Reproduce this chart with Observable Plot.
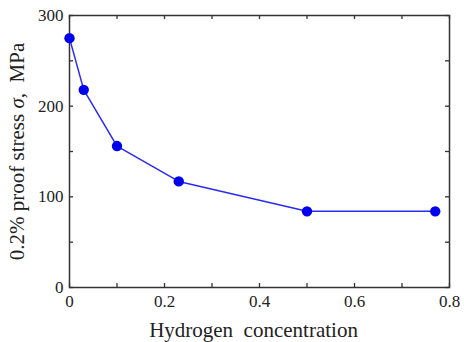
<!DOCTYPE html>
<html><head><meta charset="utf-8">
<script src="https://cdn.jsdelivr.net/npm/d3@7"></script>
<script src="https://cdn.jsdelivr.net/npm/@observablehq/plot@0.6"></script>
<style>
body{margin:0;background:#fff}
#chart svg, #chart svg text { font-family: "Liberation Serif", "Times New Roman", serif !important; }
</style>
</head><body><div id="chart"></div>
<script>
const hydrogen = [0, 0.03, 0.1, 0.23, 0.5, 0.77];
const stress = [275, 218, 156, 117, 84, 84];
const xMajor = [0, 0.2, 0.4, 0.6, 0.8];
const xMinor = [0, 0.1, 0.2, 0.3, 0.4, 0.5, 0.6, 0.7, 0.8];
const yMajor = [0, 100, 200, 300];
const yMinor = [0, 50, 100, 150, 200, 250, 300];
const xTitle = "Hydrogen  concentration";
const yTitle = "0.2% proof stress σ,  MPa";

const data = hydrogen.map((h, i) => ({h, s: stress[i]}));
const W = 464, H = 342, mL = 69, mR = 15, mT = 15, mB = 55;
const fw = W - mL - mR, fh = H - mT - mB;
const tk = 4;
const axisColor = "#333";
const serif = "Liberation Serif";

const chart = Plot.plot({
  width: W, height: H,
  marginLeft: mL, marginRight: mR, marginTop: mT, marginBottom: mB,
  style: {fontFamily: serif, fontSize: "17px", color: "#222", background: "#fff"},
  x: {domain: [0, 0.8]},
  y: {domain: [0, 300]},
  marks: [
    Plot.frame({stroke: axisColor, strokeWidth: 1.5}),
    Plot.tickX(xMinor, {x: d => d, insetTop: fh - tk, stroke: axisColor, strokeWidth: 1.3}),
    Plot.tickX(xMinor, {x: d => d, insetBottom: fh - tk, stroke: axisColor, strokeWidth: 1.3}),
    Plot.tickY(yMinor, {y: d => d, insetRight: fw - tk, stroke: axisColor, strokeWidth: 1.3}),
    Plot.tickY(yMinor, {y: d => d, insetLeft: fw - tk, stroke: axisColor, strokeWidth: 1.3}),
    Plot.axisX(xMajor, {tickSize: 0, tickPadding: 7, fontSize: 17, fontFamily: serif, label: null, tickFormat: d => String(d)}),
    Plot.axisY(yMajor, {tickSize: 0, tickPadding: 6, fontSize: 17, fontFamily: serif, label: null, tickFormat: d => String(d)}),
    Plot.text([xTitle], {frameAnchor: "bottom", dy: 43, dx: -6, fontSize: 21, fontFamily: serif, lineAnchor: "middle", textAnchor: "middle", fill: "#222"}),
    Plot.text([yTitle], {frameAnchor: "left", dx: -52, rotate: -90, fontSize: 21, fontFamily: serif, lineAnchor: "middle", textAnchor: "middle", fill: "#222", className: "ytitle"}),
    Plot.line(data, {x: "h", y: "s", stroke: "#2a2af5", strokeWidth: 1.5}),
    Plot.dot(data, {x: "h", y: "s", r: 5.2, fill: "#0000f0", stroke: "none"})
  ]
});
document.getElementById("chart").appendChild(chart);
// italicize sigma in y title
d3.select(chart).selectAll(".ytitle text").each(function() {
  const t = d3.select(this);
  const s = t.text();
  const i = s.indexOf("σ");
  if (i < 0) return;
  t.text(null).style("white-space", "pre");
  t.append("tspan").text(s.slice(0, i));
  t.append("tspan").attr("font-style", "italic").text("σ");
  t.append("tspan").text(s.slice(i + 1));
});
</script></body></html>
